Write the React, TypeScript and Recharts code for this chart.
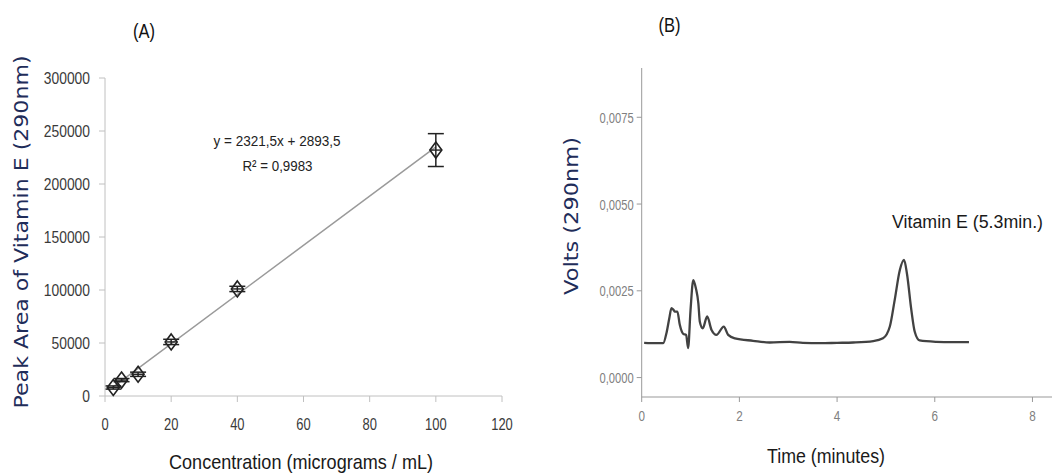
import React from "react";
import { ComposedChart, LineChart, Line, Scatter, ErrorBar, XAxis, YAxis } from "recharts";

// Panel A: calibration curve
const concentration = [2.5, 5, 10, 20, 40, 100];
const peakArea = [8000, 15000, 20500, 51000, 101000, 232000];
const peakAreaErr = [1500, 1500, 2000, 2500, 2500, 15500];
const trendConc = [2.5, 100];
const trendArea = [8700, 235000];
const concTicks = [0, 20, 40, 60, 80, 100, 120];
const areaTicks = [0, 50000, 100000, 150000, 200000, 250000, 300000];

// Panel B: chromatogram
const timeMin = [0.05, 0.3, 0.44, 0.51, 0.565, 0.61, 0.65, 0.68, 0.73, 0.78, 0.85, 0.91, 0.95, 1.0, 1.056, 1.11, 1.16, 1.19, 1.25, 1.34, 1.43, 1.53, 1.68, 1.77, 1.91, 2.28, 2.62, 3.03, 3.3, 3.65, 4.0, 4.33, 4.74, 4.94, 5.08, 5.18, 5.285, 5.37, 5.43, 5.52, 5.59, 5.69, 6.03, 6.35, 6.7];
const volts = [0.001, 0.00099, 0.00099, 0.0013, 0.00171, 0.002, 0.00195, 0.0019, 0.0019, 0.00152, 0.00126, 0.00123, 0.00085, 0.00195, 0.00281, 0.00257, 0.00214, 0.00161, 0.00142, 0.00176, 0.00137, 0.00123, 0.00147, 0.00123, 0.00113, 0.00106, 0.00101, 0.00103, 0.001, 0.00099, 0.001, 0.00101, 0.00105, 0.00113, 0.00147, 0.00224, 0.0031, 0.00339, 0.003, 0.00195, 0.00132, 0.00107, 0.00103, 0.00102, 0.00102];
const timeTicks = [0, 2, 4, 6, 8];
const voltTicks = [0, 0.0025, 0.005, 0.0075];

const scatterData = concentration.map((x, i) => ({ x, y: peakArea[i], err: peakAreaErr[i] }));
const trendData = trendConc.map((x, i) => ({ x, y: trendArea[i] }));
const chromData = timeMin.map((t, i) => ({ t, v: volts[i] }));

const FONT = "'Liberation Sans', Arial, sans-serif";
const WIDE = "'DejaVu Sans', Verdana, sans-serif";
const LABEL_COLOR = "#1f2d5a";

const Diamond = (props: any) => {
  const { cx, cy } = props;
  if (cx == null || cy == null) return null;
  return (
    <g>
      <path
        d={`M${cx},${cy - 8} L${cx + 6},${cy} L${cx},${cy + 8} L${cx - 6},${cy} Z`}
        fill="none"
        stroke="#222"
        strokeWidth={1.6}
      />
      <line x1={cx - 6} y1={cy} x2={cx + 6} y2={cy} stroke="#222" strokeWidth={1.4} />
    </g>
  );
};

const fmtVolt = (v: number) => v.toFixed(4).replace(".", ",");

// condensed-looking tick text (narrow glyphs like the original's Calibri)
const makeTick = (anchor: "end" | "middle", dy: string, size: number, charW: number, color: string, fmt?: (v: number) => string) =>
  (props: any) => {
    const { x, y, payload } = props;
    const s = fmt ? fmt(payload.value) : String(payload.value);
    return (
      <text x={x} y={y} dy={dy} textAnchor={anchor} fontFamily={FONT} fontSize={size} fill={color}
        textLength={s.length * charW} lengthAdjust="spacingAndGlyphs">
        {s}
      </text>
    );
  };

const TickAY = makeTick("end", "0.355em", 16.5, 7.7, "#3a3a3a");
const TickAX = makeTick("middle", "0.71em", 16.5, 7.2, "#3a3a3a");
const TickBY = makeTick("end", "0.355em", 15.5, 5.7, "#808080", fmtVolt);
const TickBX = makeTick("middle", "0.71em", 15.5, 6.5, "#808080");

export default function App() {
  return (
    <div style={{ position: "absolute", left: 0, top: 0, width: 1052, height: 475, background: "#fff" }}>
      <div style={{ position: "absolute", left: 0, top: 0 }}>
        <ComposedChart width={530} height={475} margin={{ top: 78, right: 28, bottom: 49, left: 45 }}>
          <XAxis
            type="number"
            dataKey="x"
            domain={[0, 120]}
            ticks={concTicks}
            stroke="#c0c0c0"
            tickSize={6}
            tickMargin={16}
            tick={TickAX}
            height={30}
          />
          <YAxis
            type="number"
            dataKey="y"
            domain={[0, 300000]}
            ticks={areaTicks}
            stroke="#c0c0c0"
            tickSize={6}
            tickMargin={9}
            tick={TickAY}
            width={60}
          />
          <Line data={trendData} dataKey="y" stroke="#9a9a9a" strokeWidth={1.5} dot={false} isAnimationActive={false} />
          <Scatter data={scatterData} dataKey="y" shape={Diamond} isAnimationActive={false}>
            <ErrorBar dataKey="err" direction="y" width={8} stroke="#222" strokeWidth={1.5} />
          </Scatter>
        </ComposedChart>
      </div>
      <div style={{ position: "absolute", left: 530, top: 0 }}>
        <LineChart width={522} height={475} data={chromData} margin={{ top: 68, right: 0, bottom: 48, left: 51.7 }}>
          <XAxis
            type="number"
            dataKey="t"
            domain={[0, 8.4]}
            ticks={timeTicks}
            stroke="#999"
            tickSize={5}
            tickMargin={8}
            tick={TickBX}
            height={30}
            allowDataOverflow
          />
          <YAxis
            type="number"
            domain={[-0.00056, 0.00892]}
            ticks={voltTicks}
            stroke="#999"
            tickSize={5}
            tickMargin={3}
            tick={TickBY}
            width={60}
            allowDataOverflow
          />
          <Line type="monotone" dataKey="v" stroke="#424242" strokeWidth={2.3} dot={false} isAnimationActive={false} />
        </LineChart>
      </div>
      <svg width={1052} height={475} style={{ position: "absolute", left: 0, top: 0, pointerEvents: "none" }}>
        <text x={144} y={38} textAnchor="middle" fontFamily={FONT} fontSize={21} fill="#111" textLength={22} lengthAdjust="spacingAndGlyphs">(A)</text>
        <text x={669.5} y={32} textAnchor="middle" fontFamily={FONT} fontSize={21} fill="#111" textLength={22} lengthAdjust="spacingAndGlyphs">(B)</text>
        <text x={277} y={146} textAnchor="middle" fontFamily={FONT} fontSize={15.5} fill="#222" textLength={127} lengthAdjust="spacingAndGlyphs">y = 2321,5x + 2893,5</text>
        <text x={277.5} y={171} textAnchor="middle" fontFamily={FONT} fontSize={15.5} fill="#222" textLength={70} lengthAdjust="spacingAndGlyphs">R² = 0,9983</text>
        <text x={301} y={469} textAnchor="middle" fontFamily={FONT} fontSize={21} fill="#1a1a1a" textLength={264} lengthAdjust="spacingAndGlyphs">Concentration (micrograms / mL)</text>
        <text x={826} y={463} textAnchor="middle" fontFamily={FONT} fontSize={21} fill="#1a1a1a" textLength={118} lengthAdjust="spacingAndGlyphs">Time (minutes)</text>
        <text x={892} y={228} textAnchor="start" fontFamily={FONT} fontSize={18} fill="#1a1a1a" textLength={151} lengthAdjust="spacingAndGlyphs">Vitamin E (5.3min.)</text>
        <text x={28} y={232} transform="rotate(-90 28 232)" textAnchor="middle" fontFamily={WIDE} fontSize={20} fill={LABEL_COLOR} textLength={353} lengthAdjust="spacingAndGlyphs">Peak Area of Vitamin E (290nm)</text>
        <text x={578} y={216} transform="rotate(-90 578 216)" textAnchor="middle" fontFamily={WIDE} fontSize={20} fill={LABEL_COLOR} textLength={158} lengthAdjust="spacingAndGlyphs">Volts (290nm)</text>
      </svg>
    </div>
  );
}
